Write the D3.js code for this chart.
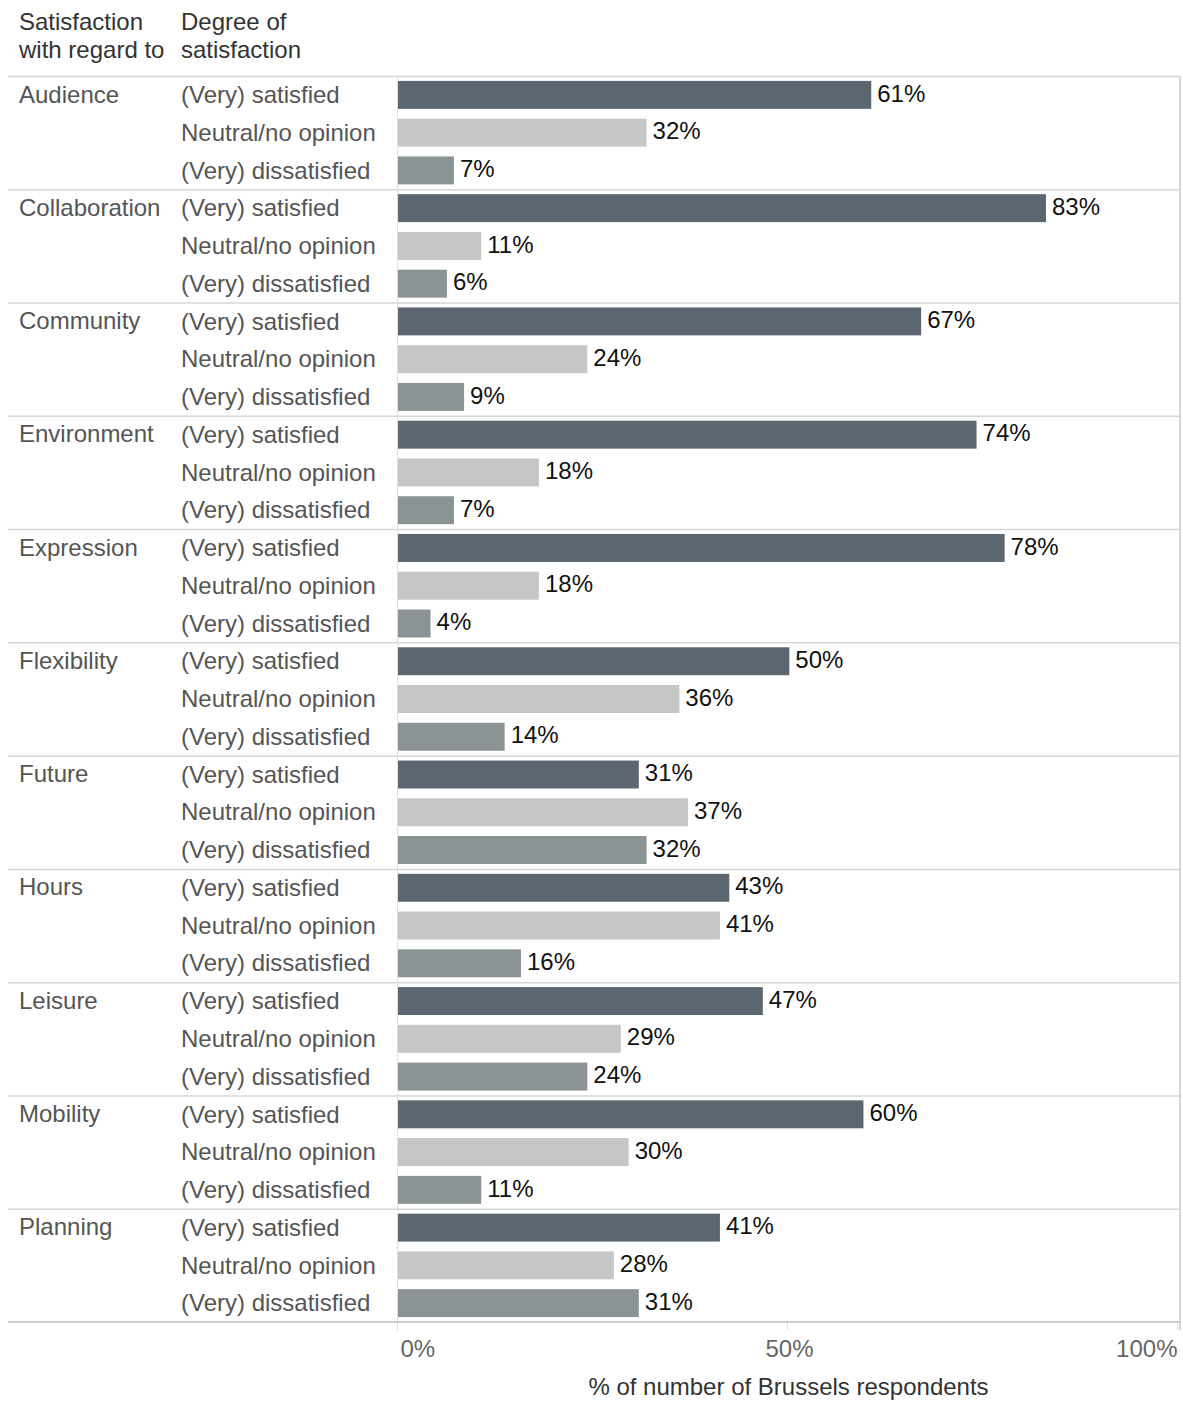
<!DOCTYPE html>
<html>
<head>
<meta charset="utf-8">
<script src="https://cdn.jsdelivr.net/npm/d3@7/dist/d3.min.js"></script>
<style>
  html, body { margin: 0; padding: 0; background: #fff; }
  svg { display: block; font-family: "Liberation Sans", Arial, Helvetica, sans-serif; }
</style>
</head>
<body>
<div id="chart"></div>
<script>
// Chart data (bar lengths; labels show rounded values)
const categories = ["Audience", "Collaboration", "Community", "Environment", "Expression",
  "Flexibility", "Future", "Hours", "Leisure", "Mobility", "Planning"]
const degrees = ["(Very) satisfied", "Neutral/no opinion", "(Very) dissatisfied"]
const satisfied    = [60.8, 83.2, 67.2, 74.3, 77.9, 50.3, 31.0, 42.6, 46.9, 59.8, 41.4]
const neutral      = [32.0, 10.8, 24.4, 18.2, 18.2, 36.2, 37.3, 41.4, 28.7, 29.7, 27.8]
const dissatisfied = [7.3, 6.4, 8.6, 7.3, 4.3, 13.8, 32.0, 15.9, 24.4, 10.8, 31.0]
const xTicks = [0, 50, 100]

const series = [satisfied, neutral, dissatisfied]
const colors = ["#5b6670", "#c5c7c6", "#8b9394"]

const width = 1183, height = 1401
const plotLeft = 397, plotRight = 1180
const plotTop = 76, plotBottom = 1322

const svg = d3.select("#chart").append("svg")
  .attr("width", width)
  .attr("height", height)

const x = d3.scaleLinear().domain([0, 100]).range([plotLeft, 1177])
const yGroup = d3.scaleBand().domain(categories).range([plotTop, plotBottom])
const yRow = d3.scaleBand().domain(degrees).range([0, yGroup.bandwidth()]).paddingInner(0.26).paddingOuter(0.13)

// Headers
const header = svg.append("g").attr("fill", "#333").attr("font-size", 24)
header.append("text").attr("x", 19).attr("y", 30).text("Satisfaction")
header.append("text").attr("x", 19).attr("y", 58).text("with regard to")
header.append("text").attr("x", 181).attr("y", 30).text("Degree of")
header.append("text").attr("x", 181).attr("y", 58).text("satisfaction")

// One record per bar
const rows = []
categories.forEach((c, i) => {
  degrees.forEach((d, j) => rows.push({ cat: c, deg: d, value: series[j][i], color: colors[j] }))
})

// Group separators
svg.append("g")
  .selectAll("line")
  .data(categories)
  .join("line")
  .attr("x1", 8).attr("x2", plotRight)
  .attr("y1", c => yGroup(c) + 0.5).attr("y2", c => yGroup(c) + 0.5)
  .attr("stroke", "#d6d6d6").attr("stroke-width", 1.5)

// Bars
svg.append("g")
  .selectAll("rect")
  .data(rows)
  .join("rect")
  .attr("x", x(0) + 1)
  .attr("y", d => yGroup(d.cat) + yRow(d.deg))
  .attr("width", d => x(d.value) - x(0) - 1)
  .attr("height", yRow.bandwidth())
  .attr("fill", d => d.color)

// Value labels
svg.append("g")
  .selectAll("text")
  .data(rows)
  .join("text")
  .attr("x", d => x(d.value) + 6)
  .attr("y", d => yGroup(d.cat) + yRow(d.deg) + yRow.bandwidth() / 2 - 1)
  .attr("dy", "0.32em")
  .attr("font-size", 24)
  .attr("fill", "#111")
  .text(d => Math.round(d.value) + "%")

// Category labels
svg.append("g")
  .selectAll("text")
  .data(categories)
  .join("text")
  .attr("x", 19)
  .attr("y", c => yGroup(c) + yRow(degrees[0]) + yRow.bandwidth() / 2)
  .attr("dy", "0.32em")
  .attr("font-size", 24)
  .attr("fill", "#555")
  .text(c => c)

// Degree labels
svg.append("g")
  .selectAll("text")
  .data(rows)
  .join("text")
  .attr("x", 181)
  .attr("y", d => yGroup(d.cat) + yRow(d.deg) + yRow.bandwidth() / 2 + 0.5)
  .attr("dy", "0.32em")
  .attr("font-size", 24)
  .attr("fill", "#555")
  .text(d => d.deg)

// Plot frame
svg.append("line")
  .attr("x1", plotLeft + 0.5).attr("x2", plotLeft + 0.5)
  .attr("y1", plotTop).attr("y2", plotBottom + 8)
  .attr("stroke", "#e0e0e0").attr("stroke-width", 1)
svg.append("line")
  .attr("x1", plotRight).attr("x2", plotRight)
  .attr("y1", plotTop).attr("y2", plotBottom + 8)
  .attr("stroke", "#d6d6d6").attr("stroke-width", 2)

// Bottom axis
const axis = svg.append("g")
  .attr("transform", `translate(0,${plotBottom})`)
  .call(d3.axisBottom(x).tickValues(xTicks).tickSize(8).tickFormat(d => d + "%"))
axis.select(".domain").remove()
axis.selectAll(".tick line").attr("stroke", "#e0e0e0")
axis.selectAll(".tick text")
  .attr("font-size", 24)
  .attr("font-family", "Liberation Sans, Arial, sans-serif")
  .attr("fill", "#666")
  .attr("y", 18)
  .attr("text-anchor", (d, i) => i === 0 ? "start" : i === xTicks.length - 1 ? "end" : "middle")
  .attr("dx", (d, i) => i === 0 ? 3 : i === 1 ? 2 : 0)
svg.append("line")
  .attr("x1", 8).attr("x2", plotRight)
  .attr("y1", plotBottom).attr("y2", plotBottom)
  .attr("stroke", "#cccccc").attr("stroke-width", 2)

svg.append("text")
  .attr("x", (plotLeft + plotRight) / 2)
  .attr("y", 1395)
  .attr("text-anchor", "middle")
  .attr("font-size", 24)
  .attr("fill", "#333")
  .text("% of number of Brussels respondents")
</script>
</body>
</html>
